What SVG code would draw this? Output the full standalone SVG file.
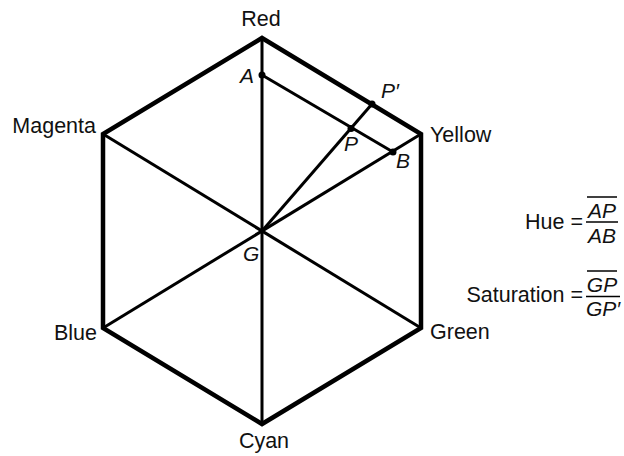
<svg xmlns="http://www.w3.org/2000/svg" width="624" height="456" viewBox="0 0 624 456">
<style>
.lbl{font-family:"Liberation Sans",Arial,sans-serif;font-size:21.5px;fill:#111}
.it{font-family:"Liberation Sans",Arial,sans-serif;font-size:21px;font-style:italic;fill:#111}
.outer{fill:none;stroke:#000;stroke-width:4.5;stroke-linejoin:miter}
.inner{fill:none;stroke:#000;stroke-width:3}
.bar{stroke:#000;stroke-width:1.5}
</style>
<rect width="624" height="456" fill="#fff"/>
<g id="connectors">
<line class="inner" x1="262" y1="38" x2="262" y2="424"/>
<line class="inner" x1="103" y1="134" x2="421" y2="328"/>
<line class="inner" x1="103" y1="328" x2="421" y2="134"/>
<line class="inner" x1="262" y1="75" x2="393" y2="152"/>
<line class="inner" x1="262" y1="231" x2="372" y2="104"/>
</g>
<g id="hexagon">
<polygon class="outer" points="262,38 421,134 421,328 262,424 103,328 103,134"/>
</g>
<g id="points">
<circle cx="262" cy="75" r="3.5"/>
<circle cx="372" cy="104" r="3.5"/>
<circle cx="351" cy="128.5" r="3.5"/>
<circle cx="393" cy="152" r="3.5"/>
</g>
<g id="red"><text class="lbl" x="261" y="26" text-anchor="middle">Red</text></g>
<g id="yellow"><text class="lbl" x="430" y="142">Yellow</text></g>
<g id="green"><text class="lbl" x="430" y="339">Green</text></g>
<g id="cyan"><text class="lbl" x="264" y="448" text-anchor="middle">Cyan</text></g>
<g id="blue"><text class="lbl" x="97" y="340" text-anchor="end">Blue</text></g>
<g id="magenta"><text class="lbl" x="96" y="133" text-anchor="end">Magenta</text></g>
<g id="labelA"><text class="it" x="240" y="83">A</text></g>
<g id="labelPp"><text class="it" x="381" y="98">P′</text></g>
<g id="labelP"><text class="it" x="344" y="151">P</text></g>
<g id="labelB"><text class="it" x="396" y="168">B</text></g>
<g id="labelG"><text class="it" x="243" y="261">G</text></g>
<g id="hue">
<text class="lbl" x="583" y="229" text-anchor="end">Hue =</text>
<line class="bar" x1="587" y1="197" x2="617" y2="197"/>
<text class="it" x="602" y="218" text-anchor="middle">AP</text>
<line class="bar" x1="586" y1="222" x2="618" y2="222"/>
<text class="it" x="602" y="243" text-anchor="middle">AB</text>
</g>
<g id="saturation">
<text class="lbl" x="583" y="302" text-anchor="end">Saturation =</text>
<line class="bar" x1="587" y1="271" x2="617" y2="271"/>
<text class="it" x="602" y="292" text-anchor="middle">GP</text>
<line class="bar" x1="586" y1="296.5" x2="620" y2="296.5"/>
<text class="it" x="586" y="316">GP′</text>
</g>
</svg>
